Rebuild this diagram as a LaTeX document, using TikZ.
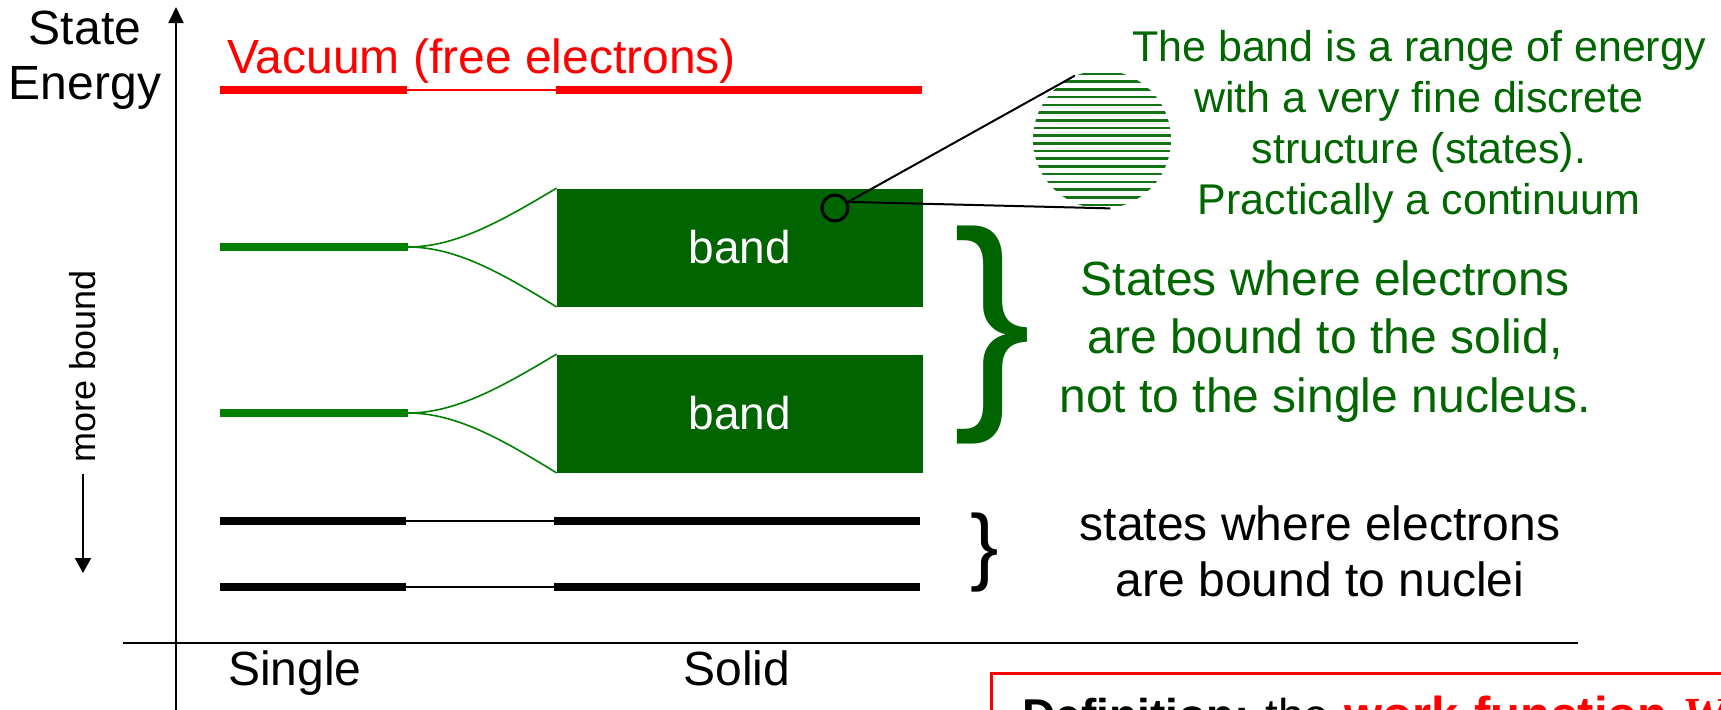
\documentclass[tikz,border=0pt]{standalone}
\usepackage{fontspec}
\setmainfont{Liberation Sans}
\newfontfamily\serifit{Liberation Serif}
\usetikzlibrary{arrows.meta}
\definecolor{bandgreen}{RGB}{0,100,0}
\definecolor{txtgreen}{RGB}{0,102,0}
\definecolor{lvlgreen}{RGB}{0,128,0}
\definecolor{stripegreen}{RGB}{20,115,20}
\frenchspacing
\begin{document}
\begin{tikzpicture}[x=0.5pt,y=-0.5pt,
  thicklvl/.style={line width=4pt},
  thinlvl/.style={line width=1pt},
  fan/.style={lvlgreen,line width=0.8pt},
  bandbox/.style={fill=bandgreen,inner sep=0pt,minimum width=183pt,minimum height=59pt,text=white,font=\fontsize{23}{27}\selectfont},
  lbl/.style={inner sep=0pt,font=\fontsize{24}{28}\selectfont},
  stripe/.style={stripegreen,line width=1.3pt}
]
\useasboundingbox (0,0) rectangle (1721,709);
\clip (0,0) rectangle (1721,709);

% axes
\coordinate (ybot) at (176,720);
\coordinate (ytop) at (176,7);
\draw[line width=1pt,-{Triangle[width=7.5pt,length=8pt]}] (ybot) -- (ytop);
\coordinate (xl) at (123,643);
\coordinate (xr) at (1578,643);
\draw[line width=1.25pt] (xl) -- (xr);

% axis labels
\node[lbl,align=center,anchor=north,font=\fontsize{24}{27.5}\selectfont] (se) at (85,11) {State\\Energy};
\node[inner sep=0pt,font=\fontsize{18}{20}\selectfont,rotate=90] (mb) at (83,366) {more bound};
\coordinate (mbe) at (83,573);
\draw[line width=1pt,shorten <=6pt,-{Triangle[width=8pt,length=7.5pt]}] (mb.west) -- (mbe);

% vacuum level
\node[lbl,text=red,anchor=base west] (vac) at (227,73) {Vacuum (free electrons)};
\coordinate (v1) at (220,90);
\coordinate (v2) at (407,90);
\coordinate (v3) at (556,90);
\coordinate (v4) at (922,90);
\draw[red,thicklvl] (v1) -- (v2);
\draw[red,thinlvl] (v2) -- (v3);
\draw[red,thicklvl] (v3) -- (v4);

% bands
\node[bandbox] (band1) at (740,247.5) {band};
\node[bandbox] (band2) at (740,413.5) {band};

% green single levels and fans
\coordinate (g1a) at (220,247);
\coordinate (g1b) at (408,247);
\draw[lvlgreen,thicklvl] (g1a) -- (g1b);
\draw[fan] (g1b) .. controls (455,247) and (500,222) .. (band1.north west);
\draw[fan] (g1b) .. controls (455,247) and (500,272) .. (band1.south west);
\coordinate (g2a) at (220,413);
\coordinate (g2b) at (408,413);
\draw[lvlgreen,thicklvl] (g2a) -- (g2b);
\draw[fan] (g2b) .. controls (455,413) and (500,388) .. (band2.north west);
\draw[fan] (g2b) .. controls (455,413) and (500,438) .. (band2.south west);

% core levels
\coordinate (k1a) at (220,521);
\coordinate (k1b) at (406,521);
\coordinate (k1c) at (554,521);
\coordinate (k1d) at (920,521);
\draw[thicklvl] (k1a) -- (k1b);
\draw[thinlvl] (k1b) -- (k1c);
\draw[thicklvl] (k1c) -- (k1d);
\coordinate (k2a) at (220,587);
\coordinate (k2b) at (406,587);
\coordinate (k2c) at (554,587);
\coordinate (k2d) at (920,587);
\draw[thicklvl] (k2a) -- (k2b);
\draw[thinlvl] (k2b) -- (k2c);
\draw[thicklvl] (k2c) -- (k2d);

% magnifier
\node[circle,draw=black,line width=1.5pt,minimum size=13pt,inner sep=0pt] (zc) at (835,208) {};
\node[circle,minimum size=69pt,inner sep=0pt] (lens) at (1102,139.5) {};
\begin{scope}
\clip (1102,139.5) circle[radius=69];
\foreach \k in {0,...,17} \draw[stripe] (1020,{74+7.7*\k}) -- (1190,{74+7.7*\k});
\end{scope}
\draw[line width=1pt] (zc.25) -- (lens.113);
\draw[line width=1pt] (zc.25) -- (lens.-83);

% texts right
\node[inner sep=0pt,font=\fontsize{21.5}{25.5}\selectfont,text=txtgreen,align=center,anchor=north] (t1) at (1419,30) {The band is a range of energy\\with a very fine discrete\\structure (states).\\Practically a continuum};
\node[inner sep=0pt,font=\fontsize{117}{117}\selectfont,text=bandgreen,anchor=north west] (gb) at (953,226) {\}};
\node[inner sep=0pt,font=\fontsize{24}{29.25}\selectfont,text=txtgreen,align=center,anchor=north] (t2) at (1325,260) {States where electrons\\are bound to the solid,\\not to the single nucleus.};
\node[inner sep=0pt,font=\fontsize{42.5}{42.5}\selectfont,anchor=north west] (kb) at (970,512) {\}};
\node[lbl,align=center,anchor=north] (t3) at (1320,505) {states where electrons\\are bound to nuclei};

% x labels
\node[lbl,anchor=base] (single) at (295,685) {Single};
\node[lbl,anchor=base] (solid) at (737,685) {Solid};

% definition box
\node[draw=red,line width=1.65pt,anchor=north west,inner xsep=15.5pt,inner ysep=11pt,text width=500pt,align=left,font=\fontsize{23}{28}\selectfont] (def) at (990,672) {\textbf{Definition:}\ the {\color{red}\fontsize{24.5}{28}\selectfont\textbf{work function} {\serifit\bfseries\itshape W}}};
\end{tikzpicture}
\end{document}
